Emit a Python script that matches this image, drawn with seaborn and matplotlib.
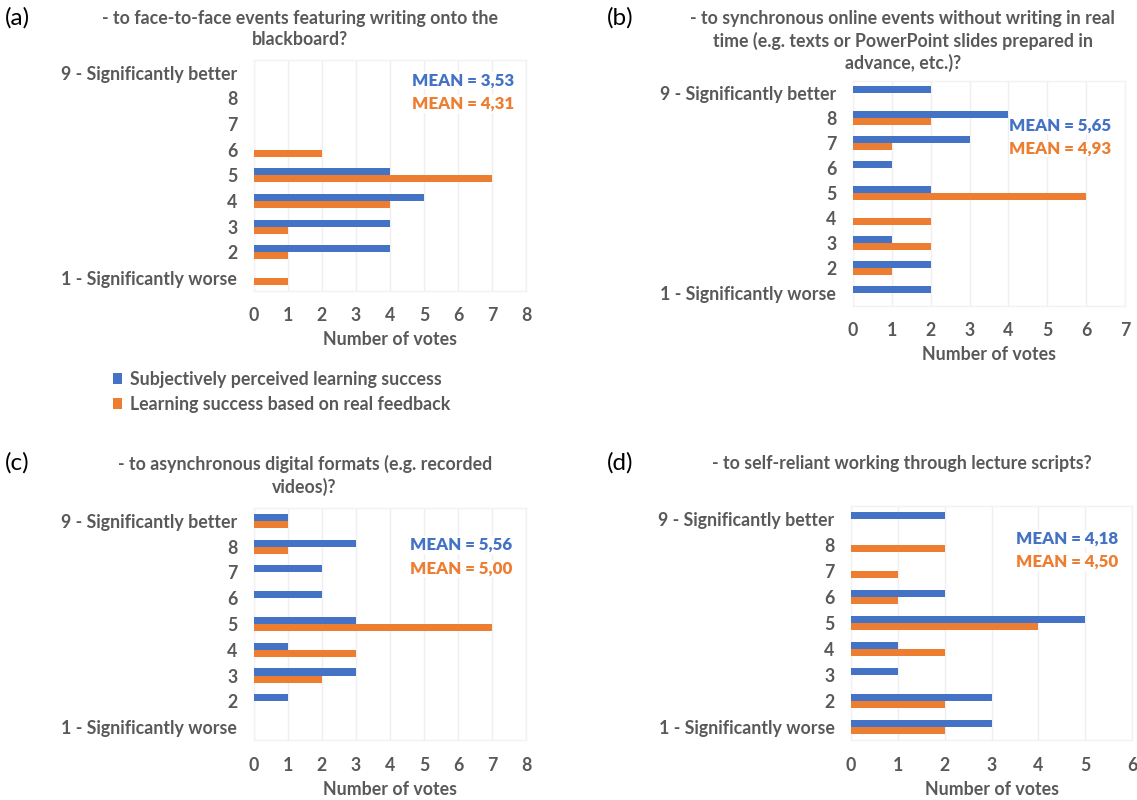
import pandas as pd
import matplotlib.pyplot as plt
import seaborn as sns
from matplotlib.patches import Patch

categories = ['9 - Significantly better', '8', '7', '6', '5', '4', '3', '2', '1 - Significantly worse']
series_names = ['Subjectively perceived learning success', 'Learning success based on real feedback']

# votes listed from 9 (top) down to 1 (bottom)
a_subjective = [0, 0, 0, 0, 4, 5, 4, 4, 0]
a_feedback = [0, 0, 0, 2, 7, 4, 1, 1, 1]
b_subjective = [2, 4, 3, 1, 2, 0, 1, 2, 2]
b_feedback = [0, 2, 1, 0, 6, 2, 2, 1, 0]
c_subjective = [1, 3, 2, 2, 3, 1, 3, 1, 0]
c_feedback = [1, 1, 0, 0, 7, 3, 2, 0, 0]
d_subjective = [2, 0, 0, 2, 5, 1, 1, 3, 3]
d_feedback = [0, 2, 1, 1, 4, 2, 0, 2, 2]

panel_labels = ['(a)', '(b)', '(c)', '(d)']
titles = [
    '- to face-to-face events featuring writing onto the\nblackboard?',
    '- to synchronous online events without writing in real\ntime (e.g. texts or PowerPoint slides prepared in\nadvance, etc.)?',
    '- to asynchronous digital formats (e.g. recorded\nvideos)?',
    '- to self-reliant working through lecture scripts?',
]
means_subjective = ['3,53', '5,65', '5,56', '4,18']
means_feedback = ['4,31', '4,93', '5,00', '4,50']
x_max = [8, 7, 8, 6]

BLUE = '#4472C4'
ORANGE = '#ED7D31'
GRAY = '#595959'
FS = 12.8

plt.rcParams['font.family'] = ['Lato', 'DejaVu Sans']

panels = [
    (a_subjective, a_feedback),
    (b_subjective, b_feedback),
    (c_subjective, c_feedback),
    (d_subjective, d_feedback),
]

# axes rectangles [left, bottom, width, height] in figure fractions
rects = [
    [0.2234, 0.6365, 0.2392, 0.2885],
    [0.7502, 0.6180, 0.2392, 0.2810],
    [0.2234, 0.0750, 0.2392, 0.2900],
    [0.7485, 0.0750, 0.2471, 0.2925],
]
title_pos = [(0.264, 0.9876), (0.794, 0.9876), (0.268, 0.431), (0.793, 0.431)]
label_pos = [(0.004, 0.978), (0.534, 0.978), (0.004, 0.421), (0.534, 0.421)]
mean_pos = [(0.955, 0.91), (0.95, 0.80), (0.95, 0.84), (0.95, 0.86)]

fig = plt.figure(figsize=(11.37, 8), dpi=100)

for i, (subj, feed) in enumerate(panels):
    df = pd.DataFrame({
        'Rating': categories * 2,
        'Votes': subj + feed,
        'Series': [series_names[0]] * 9 + [series_names[1]] * 9,
    })
    ax = fig.add_axes(rects[i])
    sns.barplot(data=df, x='Votes', y='Rating', hue='Series', order=categories,
                hue_order=series_names, palette=[BLUE, ORANGE], saturation=1, width=0.55,
                orient='h', ax=ax, legend=False, zorder=3)
    ax.set_xlim(0, x_max[i])
    ax.set_ylim(8.5, -0.5)
    ax.set_xticks(range(x_max[i] + 1))
    ax.grid(axis='x', color='#EFEFEF', linewidth=1, zorder=0)
    ax.grid(axis='y', visible=False)
    for s in ax.spines.values():
        s.set_color('#F2F2F2')
        s.set_linewidth(1)
    ax.tick_params(axis='both', length=0, labelcolor=GRAY, labelsize=FS)
    ax.tick_params(axis='y', pad=12)
    ax.tick_params(axis='x', pad=12)
    for t in ax.get_xticklabels() + ax.get_yticklabels():
        t.set_fontweight('bold')
    ax.set_ylabel('')
    ax.set_xlabel('Number of votes', color=GRAY, fontsize=FS, fontweight='bold', labelpad=5)

    mx, my = mean_pos[i]
    ax.text(mx, my, 'MEAN = ' + means_subjective[i], transform=ax.transAxes, ha='right', va='center',
            color=BLUE, fontsize=12.2, fontweight='heavy', zorder=5,
            bbox=dict(facecolor='white', edgecolor='none', pad=0.5))
    ax.text(mx, my - 0.1, 'MEAN = ' + means_feedback[i], transform=ax.transAxes, ha='right', va='center',
            color=ORANGE, fontsize=12.2, fontweight='heavy', zorder=5,
            bbox=dict(facecolor='white', edgecolor='none', pad=0.5))

    tx, ty = title_pos[i]
    fig.text(tx, ty, titles[i], ha='center', va='top', color=GRAY, fontsize=FS,
             fontweight='bold', linespacing=1.3)
    lx, ly = label_pos[i]
    fig.text(lx, ly, panel_labels[i], ha='left', va='center', color='black', fontsize=17.5)

handles = [Patch(facecolor=BLUE, edgecolor='none'), Patch(facecolor=ORANGE, edgecolor='none')]
leg = fig.legend(handles, series_names, loc='center left', bbox_to_anchor=(0.085, 0.51), frameon=False,
                 handlelength=0.55, handleheight=0.55, handletextpad=0.4, labelspacing=0.45,
                 prop={'size': FS, 'weight': 'bold'})
for t in leg.get_texts():
    t.set_color(GRAY)

fig.savefig('out.png', dpi=100, facecolor='white')
